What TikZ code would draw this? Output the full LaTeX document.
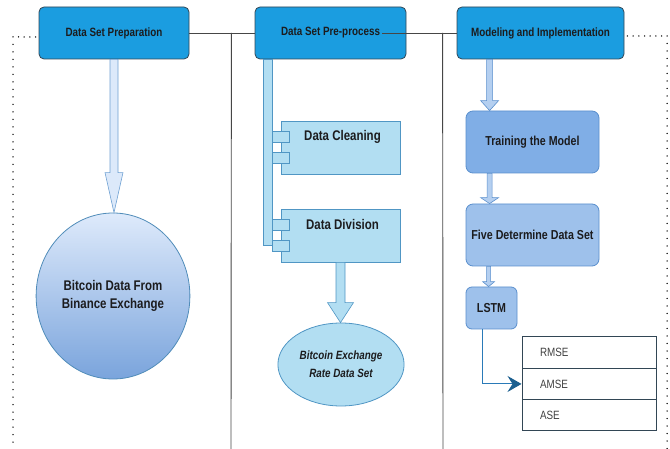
\documentclass[tikz,border=0pt]{standalone}
\usepackage{fontspec}
\setmainfont[FakeStretch=0.82]{Liberation Sans}
\usetikzlibrary{calc,arrows.meta,shapes.geometric}
\definecolor{topblue}{RGB}{27,157,224}
\definecolor{topedge}{RGB}{50,70,85}
\definecolor{txt}{RGB}{28,28,30}
\definecolor{lightarr}{RGB}{220,233,250}
\definecolor{lightarredge}{RGB}{110,160,210}
\definecolor{compfill}{RGB}{178,222,242}
\definecolor{compedge}{RGB}{80,150,196}
\definecolor{trainfill}{RGB}{128,174,230}
\definecolor{fivefill}{RGB}{158,193,235}
\definecolor{modedge}{RGB}{90,143,205}
\definecolor{smallarr}{RGB}{180,207,240}
\definecolor{circtop}{RGB}{222,234,251}
\definecolor{circbot}{RGB}{122,164,220}
\definecolor{circedge}{RGB}{80,140,185}
\definecolor{connblue}{RGB}{42,122,184}
\definecolor{tipblue}{RGB}{27,95,143}
\definecolor{divline}{RGB}{70,70,70}
\newcommand\fatarrow[6]{%
 \path[#1] let \p1=(#2), \p2=(#3) in
 (\x1-#4pt,\y1) -- (\x1-#4pt,\y2+#6pt) -- (\x1-#5pt,\y2+#6pt) -- (\x1,\y2) --
 (\x1+#5pt,\y2+#6pt) -- (\x1+#4pt,\y2+#6pt) -- (\x1+#4pt,\y1) -- cycle;}
\tikzset{
 topbox/.style={draw=topedge, fill=topblue, rounded corners=5pt, line width=0.8pt,
   minimum height=52pt, text=txt, font=\bfseries\fontsize{12}{14}\selectfont},
 comp/.style={draw=compedge, fill=compfill, line width=0.8pt, minimum width=119pt, minimum height=53pt},
 comptab/.style={draw=compedge, fill=compfill, line width=0.8pt, minimum width=17pt, minimum height=11pt, inner sep=0pt},
 comptext/.style={anchor=center, text=txt, font=\bfseries\fontsize{14}{16}\selectfont},
 modbox/.style={draw=modedge, line width=0.8pt, rounded corners=7pt, text=txt,
   font=\bfseries\fontsize{13}{15}\selectfont},
 bigarrow/.style={fill=lightarr, draw=lightarredge, line width=0.6pt},
 midarrow/.style={fill=compfill, draw=compedge, line width=0.6pt},
 smallarrow/.style={fill=smallarr, draw=modedge, line width=0.6pt},
 trow/.style={draw=topedge, line width=1pt, minimum width=134pt, minimum height=31.3pt,
   text width=98pt, inner xsep=18pt, align=left, text=black!75, font=\fontsize{12}{14}\selectfont},
 divider/.style={draw=divline, line width=0.9pt},
 hdots/.style={draw=black, line width=1.5pt, line cap=round, dash pattern=on 0pt off 5.7pt},
 vdots/.style={draw=black, line width=1.5pt, line cap=round, dash pattern=on 0pt off 7.5pt},
}
\begin{document}
\begin{tikzpicture}[x=1pt,y=-1pt]
\useasboundingbox (0,0) rectangle (670,449);
% top boxes
\node[topbox, minimum width=150pt] (b1) at (114,33) {Data Set Preparation};
\node[topbox, minimum width=151pt] (b2) at (330.5,33) {Data Set Pre-process};
\node[topbox, minimum width=167pt] (b3) at (540.5,33) {Modeling and Implementation};
% divider lines
\coordinate (j1) at ($(b1.east)+(42,0)$);
\coordinate (j1b) at (231,449);
\coordinate (j2) at ($(b3.west)+(-14,0)$);
\coordinate (j2b) at (443,449);
\draw[divider] (b1.east) -- (b2.west);
\draw[divider] (j1) -- (j1b);
\draw[divider] ($(b2.east)+(-24,0)$) -- (b3.west);
\draw[divider] (j2) -- (j2b);
% dotted frame
\coordinate (dl) at (13,37);
\coordinate (dlb) at (13,449);
\coordinate (dr) at (667,36);
\coordinate (drb) at (667,449);
\draw[hdots] ($(b1.west)+(-3,4)$) -- (dl);
\draw[vdots] (dl) -- (dlb);
\draw[hdots] ($(b3.east)+(3,3)$) -- (dr);
\draw[vdots] (dr) -- (drb);
% column 1
\node[ellipse, draw=circedge, line width=0.8pt, top color=circtop, bottom color=circbot,
  minimum width=150pt, minimum height=166pt, align=center, text=txt,
  font=\bfseries\fontsize{14}{18}\selectfont] (c1) at (113,296) {Bitcoin Data From\\Binance Exchange};
\fatarrow{bigarrow}{b1.south}{c1.north}{4}{9}{40}
% column 2
\node[comp] (dc) at (340.5,147.5) {};
\node[comp] (dd) at (340.5,235.5) {};
\draw[draw=compedge, fill=compfill, line width=0.8pt] ($(b2.south west)+(9,0)$) rectangle ($(dd.west)+(-8,9.5)$);
\node[comptab] (dct1) at ($(dc.west)+(0.5,-10.5)$) {};
\node[comptab] (dct2) at ($(dc.west)+(0.5,10.5)$) {};
\node[comptab] (ddt1) at ($(dd.west)+(0.5,-10.5)$) {};
\node[comptab] (ddt2) at ($(dd.west)+(0.5,10.5)$) {};
\node[comptext] (dclab) at ($(dc.north)+(2,16)$) {Data Cleaning};
\node[comptext] (ddlab) at ($(dd.north)+(2,16)$) {Data Division};
\node[ellipse, draw=compedge, fill=compfill, line width=0.8pt, minimum width=100pt, minimum height=83pt,
  align=center, text=txt, font=\bfseries\itshape\fontsize{12}{18}\selectfont] (e2) at (341,364.5)
  {Bitcoin Exchange\\Rate Data Set};
\fatarrow{midarrow}{dd.south}{e2.north}{4.5}{13}{20}
% column 3
\node[modbox, fill=trainfill, minimum width=133pt, minimum height=62pt] (train) at (532.5,142) {Training the Model};
\node[modbox, fill=fivefill, minimum width=133pt, minimum height=62pt] (five) at (532.5,235) {Five Determine Data Set};
\node[modbox, fill=fivefill, minimum width=51pt, minimum height=42pt, rounded corners=6pt] (lstm) at (491.5,308) {LSTM};
\coordinate (a3s) at ($(b3.south west)+(33,0)$);
\coordinate (a3t) at ($(train.north west)+(24,0)$);
\coordinate (a4s) at ($(train.south west)+(24,0)$);
\coordinate (a4t) at ($(five.north west)+(24,0)$);
\coordinate (a5s) at ($(five.south west)+(23,0)$);
\coordinate (a5t) at ($(lstm.north west)+(23,0)$);
\fatarrow{smallarrow}{a3s}{a3t}{3}{9}{10}
\fatarrow{smallarrow}{a4s}{a4t}{2.5}{9}{6}
\fatarrow{smallarrow}{a5s}{a5t}{2}{6}{5}
% table
\node[trow] (rmse) at (589,352.65) {RMSE};
\node[trow] (amse) at (589,383.95) {AMSE};
\node[trow] (ase) at (589,415.25) {ASE};
\draw[connblue, line width=1pt, -{Stealth[length=14pt,width=16pt,inset=5pt,fill=tipblue,color=tipblue]}]
  ($(lstm.south)+(-9.5,0)$) |- (amse.west);
\end{tikzpicture}
\end{document}
